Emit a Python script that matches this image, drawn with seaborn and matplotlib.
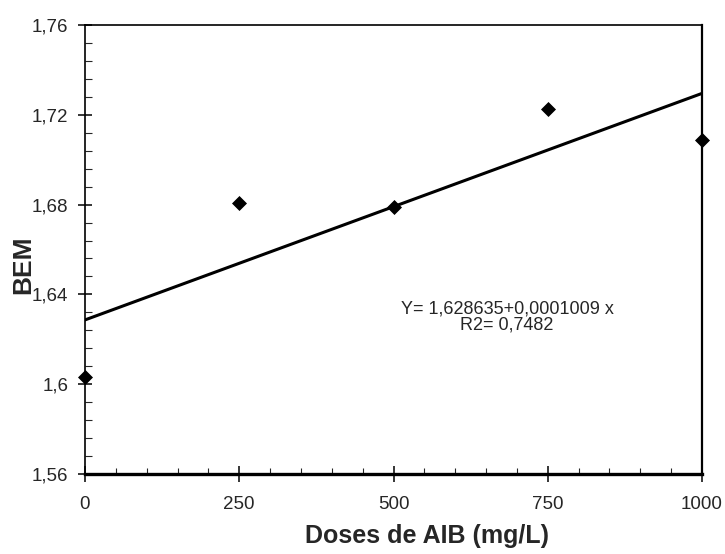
import numpy as np
import pandas as pd
import seaborn as sns
import matplotlib.pyplot as plt
from matplotlib.ticker import MultipleLocator, FuncFormatter

# data
doses = [0, 250, 500, 750, 1000]
bem = [1.6031, 1.6809, 1.6791, 1.7227, 1.7089]
intercept = 1.628635
slope = 0.0001009
equation_text = "Y= 1,628635+0,0001009 x\nR2= 0,7482"
x_ticks = [0, 250, 500, 750, 1000]
y_ticks = [1.56, 1.60, 1.64, 1.68, 1.72, 1.76]

sns.set_style("white")
plt.rcParams['font.family'] = ['Liberation Sans', 'DejaVu Sans']

df = pd.DataFrame({"dose": doses, "bem": bem})
line_x = [doses[0], doses[-1]]
fit = pd.DataFrame({"dose": line_x,
                    "bem": [intercept + slope * x for x in line_x]})

fig = plt.figure(figsize=(7.25, 5.54), dpi=100)
ax = fig.add_axes([85 / 725, 1 - 474 / 554, 617 / 725, 449 / 554])

sns.lineplot(data=fit, x="dose", y="bem", ax=ax, color="black",
             linewidth=2.2)
sns.scatterplot(data=df, x="dose", y="bem", ax=ax, marker="D",
                color="black", s=50, edgecolor="black", zorder=5,
                clip_on=False)

ax.set_xlim(0, 1000)
ax.set_ylim(1.56, 1.76)
ax.set_xticks(x_ticks)
ax.set_yticks(y_ticks)
ax.xaxis.set_minor_locator(MultipleLocator(50))
ax.yaxis.set_minor_locator(MultipleLocator(0.008))


def comma_fmt(v, pos):
    s = f"{v:.2f}".rstrip("0").rstrip(".")
    return s.replace(".", ",")


ax.yaxis.set_major_formatter(FuncFormatter(comma_fmt))
ax.xaxis.set_major_formatter(FuncFormatter(lambda v, p: f"{int(v)}"))

ax.tick_params(axis="x", which="major", direction="inout", length=11,
               width=1.3, labelsize=13.5, pad=10, bottom=True)
ax.tick_params(axis="x", which="minor", direction="in", length=4,
               width=0.8, bottom=True)
ax.tick_params(axis="y", which="major", direction="inout", length=10,
               width=1.3, labelsize=13.5, pad=7, left=True)
ax.tick_params(axis="y", which="minor", direction="in", length=5,
               width=0.8, left=True)

for name, spine in ax.spines.items():
    spine.set_visible(True)
    spine.set_color("black")
    spine.set_linewidth(1.2)
ax.spines["right"].set_linewidth(1.6)
ax.spines["bottom"].set_linewidth(2.4)

ax.set_xlabel("Doses de AIB (mg/L)", fontsize=18, fontweight="bold")
ax.xaxis.set_label_coords(0.555, -0.112)
ax.set_ylabel("BEM", fontsize=19, fontweight="bold")
ax.yaxis.set_label_coords(-0.080, 0.465)

ax.text(684, 1.6300, equation_text, ha="center", va="center",
        fontsize=13, linespacing=0.95)

fig.savefig("out.png", dpi=100)
